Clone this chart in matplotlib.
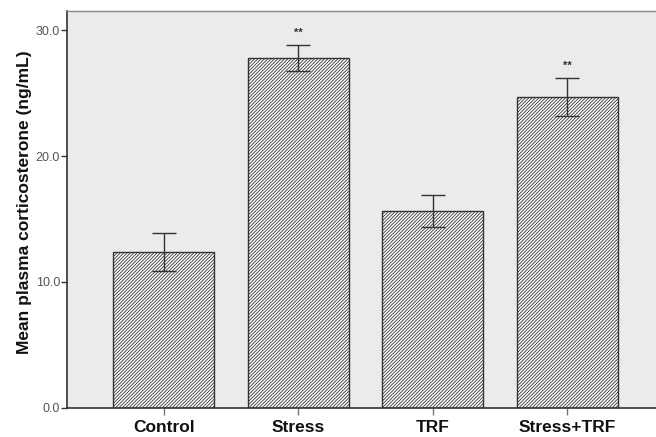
import matplotlib
matplotlib.use("Agg")
import matplotlib.pyplot as plt

categories = ["Control", "Stress", "TRF", "Stress+TRF"]
means = [12.4, 27.8, 15.65, 24.7]
errors = [1.5, 1.05, 1.25, 1.5]
stars = ["", "**", "", "**"]
yticks = [0.0, 10.0, 20.0, 30.0]

plt.rcParams['hatch.linewidth'] = 0.6
plt.rcParams['hatch.color'] = '#333333'

fig = plt.figure(figsize=(6.56, 4.37), dpi=100)
fig.patch.set_facecolor('white')
ax = fig.add_axes([67/656, (437-407.5)/437, 1 - 67/656, (407.5-11)/437])
ax.set_facecolor('#ebebeb')

x = list(range(len(categories)))
ax.bar(x, means, width=0.75, color='white', edgecolor='#333333', linewidth=1.0,
       hatch='/' * 10, zorder=2)
ax.errorbar(x, means, yerr=errors, fmt='none', ecolor='#333333', elinewidth=1.0,
            capsize=8.5, capthick=1.0, zorder=3)
for xi, m, e, s in zip(x, means, errors, stars):
    if s:
        ax.text(xi, m + e + 0.55, s, ha='center', va='bottom', fontsize=8,
                fontweight='bold', color='#333333', family='Liberation Sans')

ax.set_xlim(-0.72, 3.66)
ax.set_ylim(0, 31.55)
ax.set_yticks(yticks)
ax.set_yticklabels([f"{v:.1f}" for v in yticks], fontsize=9, color='#555555',
                   family='Liberation Sans')
ax.set_xticks(x)
ax.set_xticklabels(categories, fontsize=12.5, fontweight='bold', color='#111111',
                   family='Liberation Sans')
ax.tick_params(axis='y', direction='out', length=4, width=1, color='#333333', pad=1)
ax.tick_params(axis='x', direction='out', length=5, width=1, color='#777777', pad=4)
ax.set_ylabel("Mean plasma corticosterone (ng/mL)", fontsize=12.5, fontweight='bold',
              family='Liberation Sans', color='#111111')
ax.yaxis.set_label_coords(-0.06, 0.518)

for side in ['left', 'bottom']:
    ax.spines[side].set_color('#333333')
    ax.spines[side].set_linewidth(1.2)
ax.spines['top'].set_color('#888888')
ax.spines['top'].set_linewidth(1.0)
ax.spines['right'].set_visible(False)

fig.savefig("out.png", dpi=100)
